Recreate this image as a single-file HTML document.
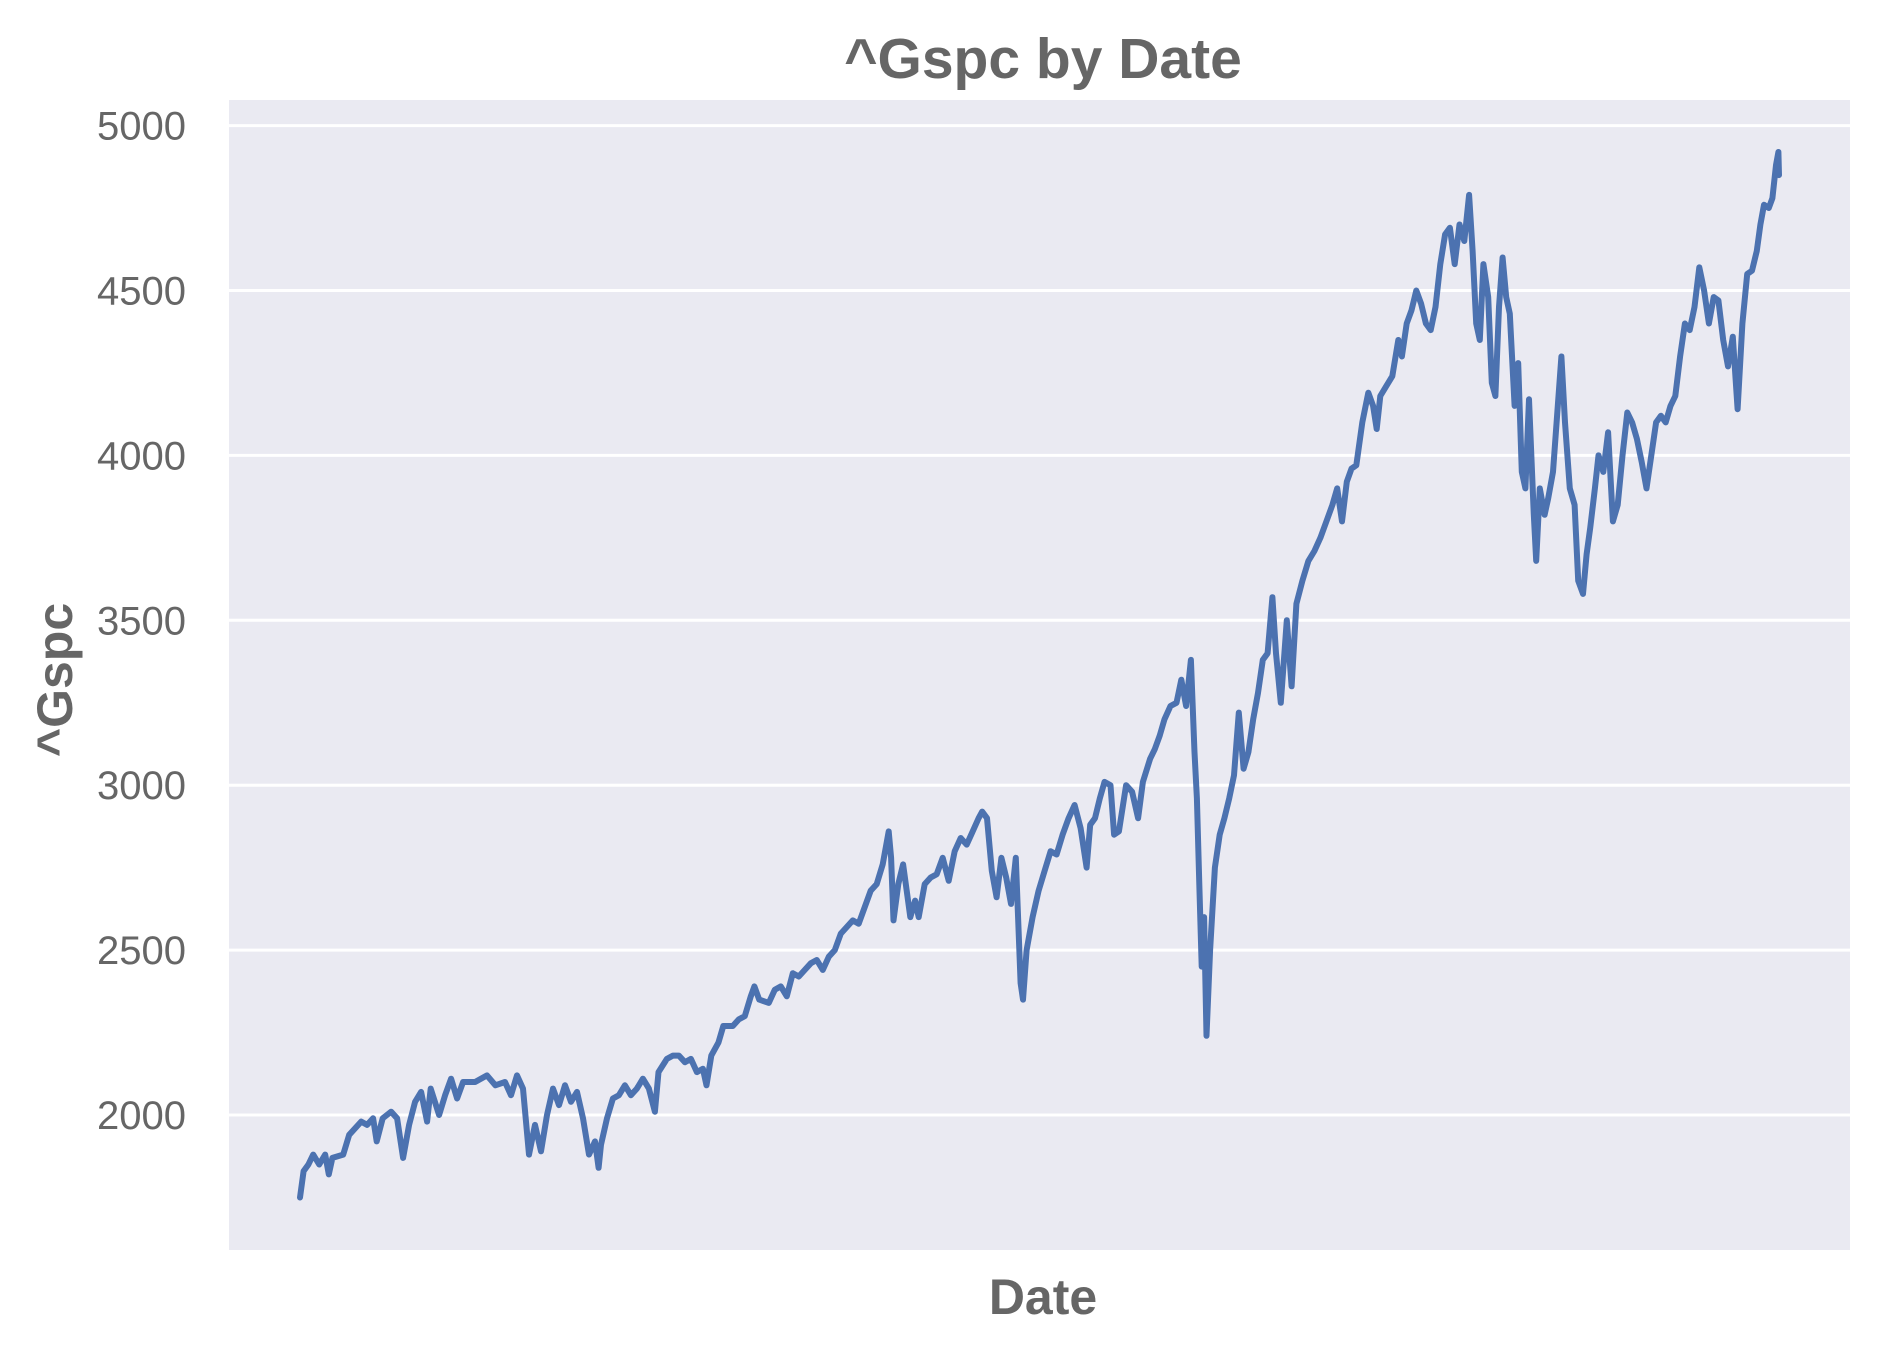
<!DOCTYPE html>
<html><head><meta charset="utf-8"><style>
html,body{margin:0;padding:0;background:#fff;}
svg{display:block;font-family:"Liberation Sans",Arial,sans-serif;}
</style></head><body>
<svg id="chart" width="1883" height="1345" viewBox="0 0 1883 1345">
<rect x="229" y="100" width="1621" height="1150" fill="#eaeaf2"/>
<g id="grid"></g>
<g id="yticks"></g>
<path id="series" fill="none" stroke="#4c72b0" stroke-width="6" stroke-linejoin="round" stroke-linecap="round"/>
<text x="1043" y="78" text-anchor="middle" font-size="57" font-weight="bold" fill="#666">^Gspc by Date</text>
<text x="1043" y="1314" text-anchor="middle" font-size="50" font-weight="bold" fill="#666">Date</text>
<text x="0" y="0" transform="translate(72,680) rotate(-90)" text-anchor="middle" font-size="50" font-weight="bold" fill="#666">^Gspc</text>
</svg>
<script>
const yTicks = [2000, 2500, 3000, 3500, 4000, 4500, 5000];
const tradingDays = [0,6,14,22,32,42,48,54,72,82,102,112,122,128,138,152,162,172,182,192,202,212,218,232,242,252,262,272,292,312,326,342,352,362,372,382,392,402,412,422,432,442,452,462,472,482,492,498,502,512,522,532,542,552,562,572,582,592,598,612,622,632,642,652,662,672,678,686,698,706,722,732,742,752,758,766,782,792,802,812,822,832,842,852,862,872,882,892,902,912,922,932,942,952,962,972,982,986,990,998,1006,1012,1018,1026,1032,1042,1052,1062,1072,1082,1092,1102,1112,1122,1132,1138,1146,1154,1162,1170,1178,1186,1194,1202,1206,1212,1222,1232,1242,1252,1262,1272,1282,1292,1302,1312,1318,1326,1334,1342,1352,1358,1366,1378,1388,1398,1406,1418,1426,1434,1442,1452,1462,1470,1478,1486,1492,1496,1500,1504,1508,1512,1518,1526,1534,1542,1550,1558,1566,1574,1582,1590,1598,1606,1614,1622,1628,1636,1646,1654,1662,1672,1682,1692,1702,1712,1722,1730,1738,1746,1754,1762,1772,1782,1790,1796,1802,1812,1822,1832,1838,1846,1854,1862,1870,1878,1886,1894,1902,1910,1918,1926,1934,1942,1950,1956,1962,1968,1974,1982,1988,1994,2000,2006,2012,2018,2026,2032,2038,2044,2050,2058,2062,2068,2076,2082,2090,2098,2104,2110,2118,2126,2132,2140,2146,2152,2160,2166,2174,2182,2190,2198,2206,2214,2222,2230,2238,2246,2254,2262,2270,2278,2286,2294,2302,2310,2318,2326,2334,2342,2350,2358,2366,2374,2382,2390,2398,2406,2414,2422,2430,2436,2442,2450,2456,2462,2466,2467];
const gspcValues = [1750,1830,1850,1880,1850,1880,1820,1870,1880,1940,1980,1970,1990,1920,1990,2010,1990,1870,1970,2040,2070,1980,2080,2000,2060,2110,2050,2100,2100,2120,2090,2100,2060,2120,2080,1880,1970,1890,2000,2080,2030,2090,2040,2070,1990,1880,1920,1840,1910,1990,2050,2060,2090,2060,2080,2110,2080,2010,2130,2170,2180,2180,2160,2170,2130,2140,2090,2180,2220,2270,2270,2290,2300,2360,2390,2350,2340,2380,2390,2360,2430,2420,2440,2460,2470,2440,2480,2500,2550,2570,2590,2580,2630,2680,2700,2760,2860,2780,2590,2700,2760,2680,2600,2650,2600,2700,2720,2730,2780,2710,2800,2840,2820,2860,2900,2920,2900,2740,2660,2780,2720,2640,2780,2400,2350,2500,2600,2680,2740,2800,2790,2850,2900,2940,2870,2750,2880,2900,2960,3010,3000,2850,2860,3000,2980,2900,3010,3080,3110,3150,3200,3240,3250,3320,3240,3380,3100,2960,2700,2450,2600,2240,2500,2750,2850,2900,2960,3030,3220,3050,3100,3200,3280,3380,3400,3570,3400,3250,3500,3300,3550,3620,3680,3710,3750,3800,3850,3900,3800,3920,3960,3970,4100,4190,4150,4080,4180,4210,4240,4350,4300,4400,4440,4500,4460,4400,4380,4450,4580,4670,4690,4580,4700,4650,4790,4620,4400,4350,4580,4480,4220,4180,4450,4600,4480,4430,4150,4280,3950,3900,4170,3820,3680,3900,3820,3870,3950,4150,4300,4100,3900,3850,3620,3580,3700,3780,3900,4000,3950,4070,3800,3850,4000,4130,4100,4050,3980,3900,4000,4100,4120,4100,4150,4180,4300,4400,4380,4450,4570,4500,4400,4480,4470,4350,4270,4360,4140,4400,4550,4560,4620,4700,4760,4750,4780,4880,4920,4850];

const PX0 = 300, PX1 = 1779;
const xMin = tradingDays[0], xMax = tradingDays[tradingDays.length - 1];
function xScale(d){ return PX0 + (d - xMin) / (xMax - xMin) * (PX1 - PX0); }
function yScale(v){ return 1115 - (v - 2000) * (164.9 / 500); }

const ns = "http://www.w3.org/2000/svg";
const grid = document.getElementById('grid');
const yt = document.getElementById('yticks');
yTicks.forEach(t => {
  const y = yScale(t);
  const ln = document.createElementNS(ns, 'line');
  ln.setAttribute('x1', 229); ln.setAttribute('x2', 1850);
  ln.setAttribute('y1', y); ln.setAttribute('y2', y);
  ln.setAttribute('stroke', '#fff'); ln.setAttribute('stroke-width', 3);
  
  
  grid.appendChild(ln);
  const tx = document.createElementNS(ns, 'text');
  tx.setAttribute('x', 186); tx.setAttribute('y', y + 14);
  tx.setAttribute('text-anchor', 'end');
  tx.setAttribute('font-size', '40'); tx.setAttribute('fill', '#666');
  tx.textContent = t;
  
  
  yt.appendChild(tx);
});
let d = '';
gspcValues.forEach((v, i) => {
  d += (i ? 'L' : 'M') + xScale(tradingDays[i]).toFixed(1) + ',' + yScale(v).toFixed(1);
});
document.getElementById('series').setAttribute('d', d);
</script>
</body></html>
